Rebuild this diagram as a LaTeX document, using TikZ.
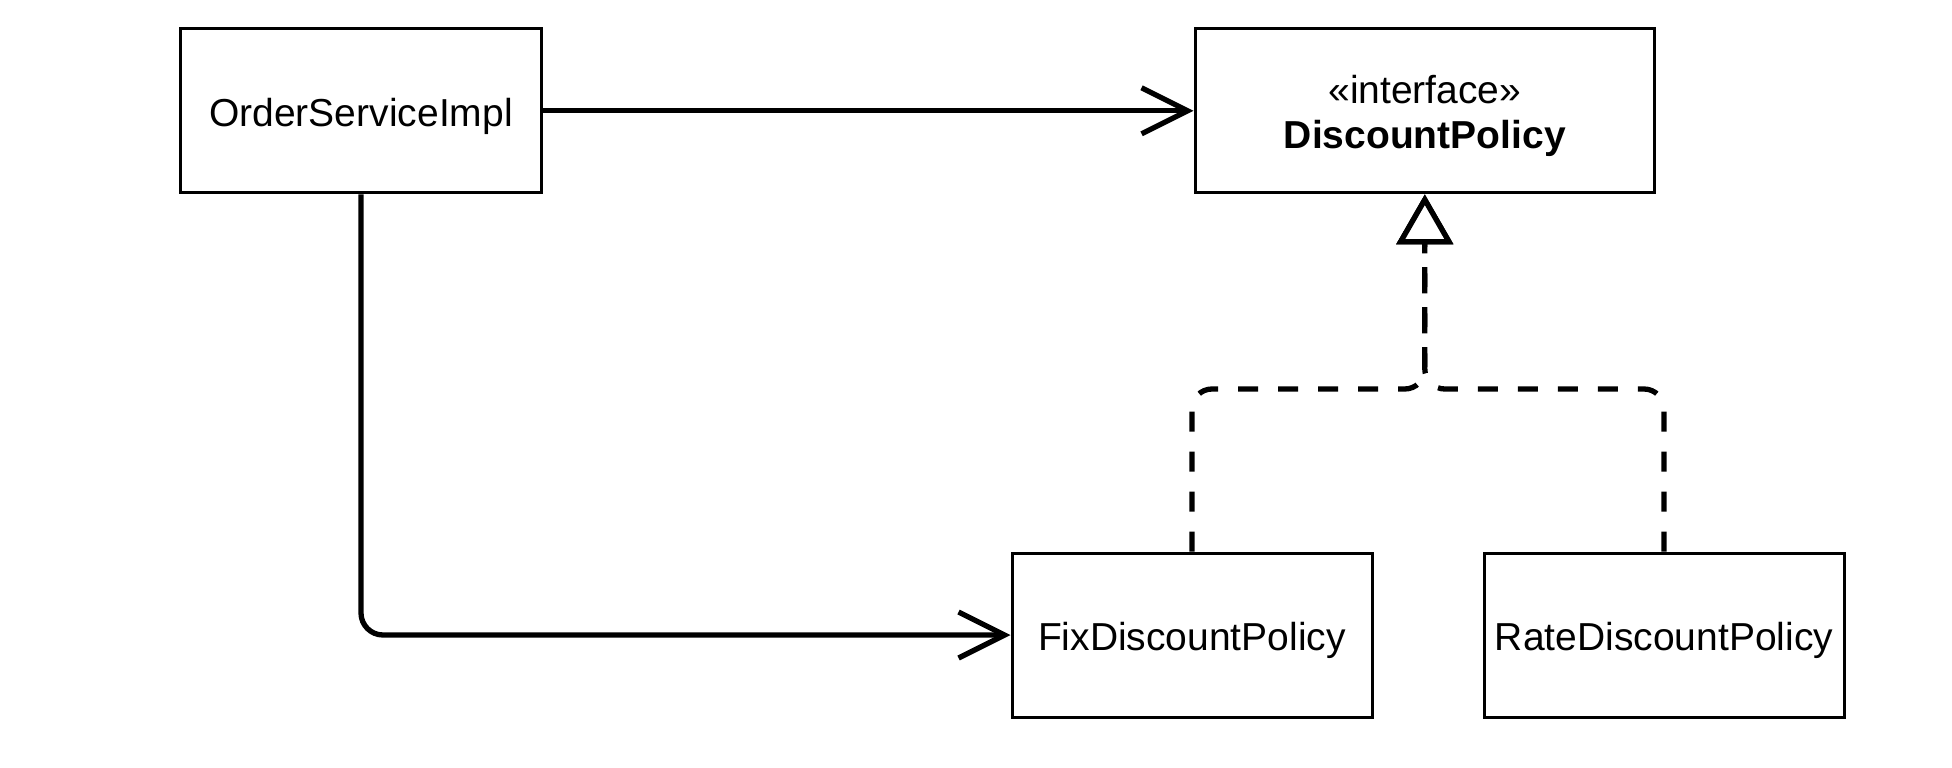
\documentclass[tikz,border=0pt]{standalone}
\usepackage{fontspec}
\setmainfont{Liberation Sans}
\usetikzlibrary{arrows.meta}
\newcommand{\lowtxt}[1]{\raisebox{-5.5pt}[\height][\depth]{#1}}
\tikzset{
  umlbox/.style={draw, line width=3pt, inner sep=0pt, align=center,
    font=\fontsize{39}{45}\selectfont},
  assoc/.style={line width=5.3pt, -{Straight Barb[length=46pt,width=46pt]}},
  realize/.style={line width=5.3pt, dash pattern=on 20pt off 20pt,
    rounded corners=20pt, -{Triangle[length=50pt,width=56pt,fill=white,line join=miter]}},
}
\begin{document}
\begin{tikzpicture}[x=1pt,y=-1pt]
\useasboundingbox (0,0) rectangle (1952,768);
\node[umlbox, minimum width=361pt, minimum height=164pt] (order) at (361,110.8) {\lowtxt{OrderServiceImpl}};
\node[umlbox, minimum width=459.6pt, minimum height=164pt] (dp) at (1424.8,110.8) {\lowtxt{«interface»}\\\lowtxt{\textbf{DiscountPolicy}}};
\node[umlbox, minimum width=360pt, minimum height=164pt] (fix) at (1192,635) {\lowtxt{FixDiscountPolicy}};
\node[umlbox, minimum width=360pt, minimum height=164pt] (rate) at (1664,635) {\lowtxt{RateDiscountPolicy}};
\coordinate (mergeY) at (0,389);
\draw[assoc] (order.east) -- (dp.west);
\draw[assoc, rounded corners=22pt] (order.south) -- (order.south |- fix.west) -- (fix.west);
\draw[realize] (fix.north) -- (fix.north |- mergeY) -- (dp.south |- mergeY) -- (dp.south);
\draw[realize] (rate.north) -- (rate.north |- mergeY) -- (dp.south |- mergeY) -- (dp.south);
\end{tikzpicture}
\end{document}
